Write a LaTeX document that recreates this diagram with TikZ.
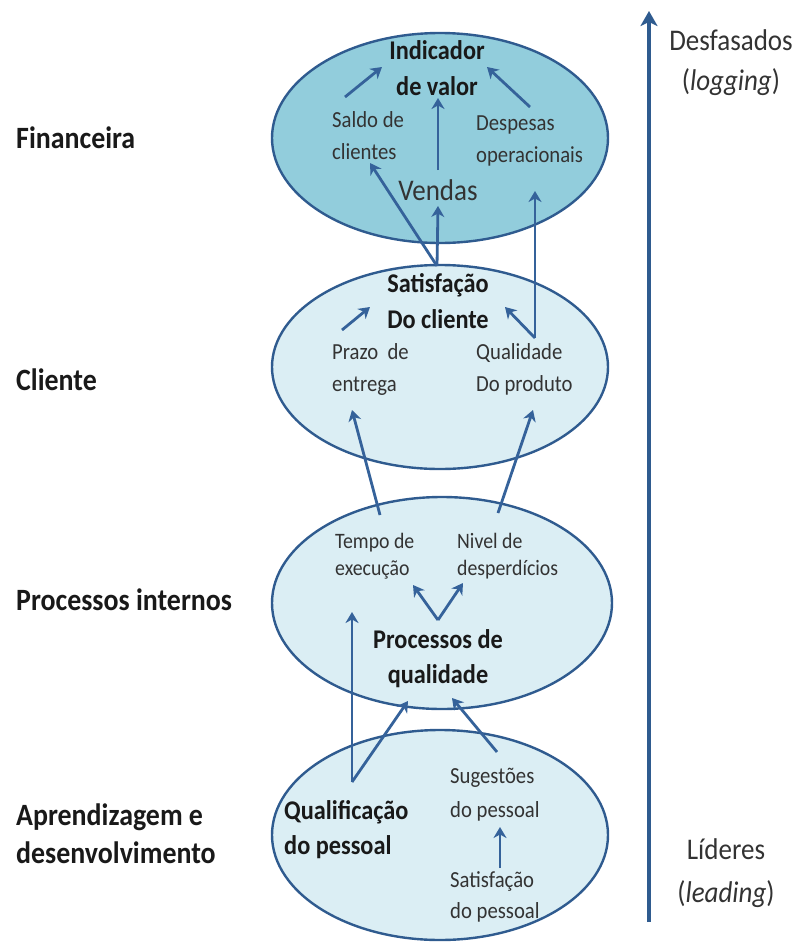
\documentclass[tikz,border=0pt]{standalone}
\usepackage{fontspec}
\setmainfont{Carlito}[FakeStretch=0.9]
\usetikzlibrary{arrows.meta,shapes.geometric}
\definecolor{edge}{HTML}{2F5B8F}
\definecolor{darkfill}{HTML}{92CDDC}
\definecolor{lightfill}{HTML}{DBEEF4}
\definecolor{arr}{HTML}{35629A}
\definecolor{txt}{HTML}{333333}
\begin{document}
\begin{tikzpicture}[x=1pt,y=-1pt,
  layer/.style={draw=edge, line width=2.4pt, ellipse, minimum width=336pt, minimum height=210pt, inner sep=0pt},
  lab/.style={font=\fontsize{31}{38}\selectfont\bfseries, text=black!90, align=left, inner sep=0pt, anchor=west},
  headtxt/.style={font=\fontsize{27}{36}\selectfont\bfseries, text=black!90, align=center, inner sep=0pt},
  small/.style={font=\fontsize{23}{32}\selectfont, text=txt, align=left, inner sep=0pt, anchor=west},
  side/.style={font=\fontsize{30}{40}\selectfont, text=txt, align=center, inner sep=0pt},
  link/.style={draw=arr, line width=2.8pt, -{Stealth[length=11pt,width=13pt,inset=3.5pt]}}
]
\useasboundingbox (0,0) rectangle (798,943);

% layers
\node[layer, fill=darkfill] (L1) at (440,138) {};
\node[layer, fill=lightfill, minimum height=204pt] (L2) at (440,367) {};
\node[layer, fill=lightfill, minimum width=340pt, minimum height=212pt] (L3) at (442,603) {};
\node[layer, fill=lightfill, minimum height=210pt] (L4) at (440,835) {};

% left labels
\node[lab] (fin) at (16,138) {Financeira};
\node[lab] (cli) at (16,380) {Cliente};
\node[lab] (proc) at (16,600) {Processos internos};
\node[lab] (apr) at (16,834) {Aprendizagem e\\desenvolvimento};

% texts in layers
\node[headtxt] (ind) at (437,68) {Indicador\\de valor};
\node[small] (saldo) at (332,136) {Saldo de\\clientes};
\node[font=\fontsize{30}{36}\selectfont, text=txt, inner sep=0pt] (vendas) at (438,190) {Vendas};
\node[small] (desp) at (476,141) {Despesas\\operacionais};

\node[headtxt] (satc) at (438,301) {Satisfação\\Do cliente};
\node[small] (prazo) at (332,369) {Prazo\ \ de\\entrega};
\node[small] (qual) at (476,369) {Qualidade\\Do produto};

\node[small, font=\fontsize{22}{27}\selectfont] (tempo) at (335,556) {Tempo de\\execução};
\node[small, font=\fontsize{22}{27}\selectfont] (nivel) at (457,556) {Nivel de\\desperdícios};
\node[headtxt, font=\fontsize{27}{35}\selectfont\bfseries] (pq) at (438,659) {Processos de\\qualidade};

\node[headtxt, align=left, anchor=west, font=\fontsize{27}{35}\selectfont\bfseries] (qp) at (284,830) {Qualificação\\do pessoal};
\node[small, font=\fontsize{23}{34}\selectfont] (sug) at (450,795) {Sugestões\\do pessoal};
\node[small, font=\fontsize{23}{31}\selectfont] (satp) at (450,897) {Satisfação\\do pessoal};

% right side
\node[side, anchor=center] (desf) at (731,63) {Desfasados\\(\textit{logging})};
\node[side, anchor=center, font=\fontsize{30}{43}\selectfont] (lid) at (726,873) {Líderes\\(\textit{leading})};
\coordinate (lagbot) at (649,922);
\coordinate (lagtop) at (649,11);
\draw[draw=edge, line width=3.8pt, -{Stealth[length=15pt,width=17pt,inset=4pt]}] (lagbot) -- (lagtop);

% arrow end points
\coordinate (saldo-o) at (345,97);   \coordinate (ind-l) at (382,67);
\coordinate (vendas-o) at (438,170); \coordinate (ind-b) at (438,98);
\coordinate (desp-o) at (530,107);   \coordinate (ind-r) at (487,67);
\coordinate (satc-o) at (437,266);   \coordinate (saldo-i) at (370,163);
\coordinate (vendas-i) at (438,206);
\coordinate (qual-o) at (535,338);   \coordinate (desp-i) at (535,191);
\coordinate (satc-r) at (505,307);
\coordinate (prazo-o) at (342,330);  \coordinate (satc-l) at (370,307);
\coordinate (tempo-o) at (380,515);  \coordinate (prazo-i) at (352,410);
\coordinate (nivel-o) at (498,513);  \coordinate (qual-i) at (533,410);
\coordinate (pq-o) at (438,620);     \coordinate (tempo-i) at (413,585);
\coordinate (nivel-i) at (463,583);
\coordinate (qp-o) at (352,782);     \coordinate (tempo-b) at (352,612);
\coordinate (pq-l) at (408,701);
\coordinate (sug-o) at (497,752);    \coordinate (pq-r) at (452,698);
\coordinate (satp-o) at (500,868);   \coordinate (sug-i) at (500,827);

% connectors
\draw[link] (saldo-o) -- (ind-l);
\draw[link] (vendas-o) -- (ind-b);
\draw[link] (desp-o) -- (ind-r);
\draw[link] (satc-o) -- (saldo-i);
\draw[link] (satc-o) -- (vendas-i);
\draw[link] (qual-o) -- (desp-i);
\draw[link] (qual-o) -- (satc-r);
\draw[link] (prazo-o) -- (satc-l);
\draw[link] (tempo-o) -- (prazo-i);
\draw[link] (nivel-o) -- (qual-i);
\draw[link] (pq-o) -- (tempo-i);
\draw[link] (pq-o) -- (nivel-i);
\draw[link] (qp-o) -- (tempo-b);
\draw[link] (qp-o) -- (pq-l);
\draw[link] (sug-o) -- (pq-r);
\draw[link] (satp-o) -- (sug-i);
\end{tikzpicture}
\end{document}
